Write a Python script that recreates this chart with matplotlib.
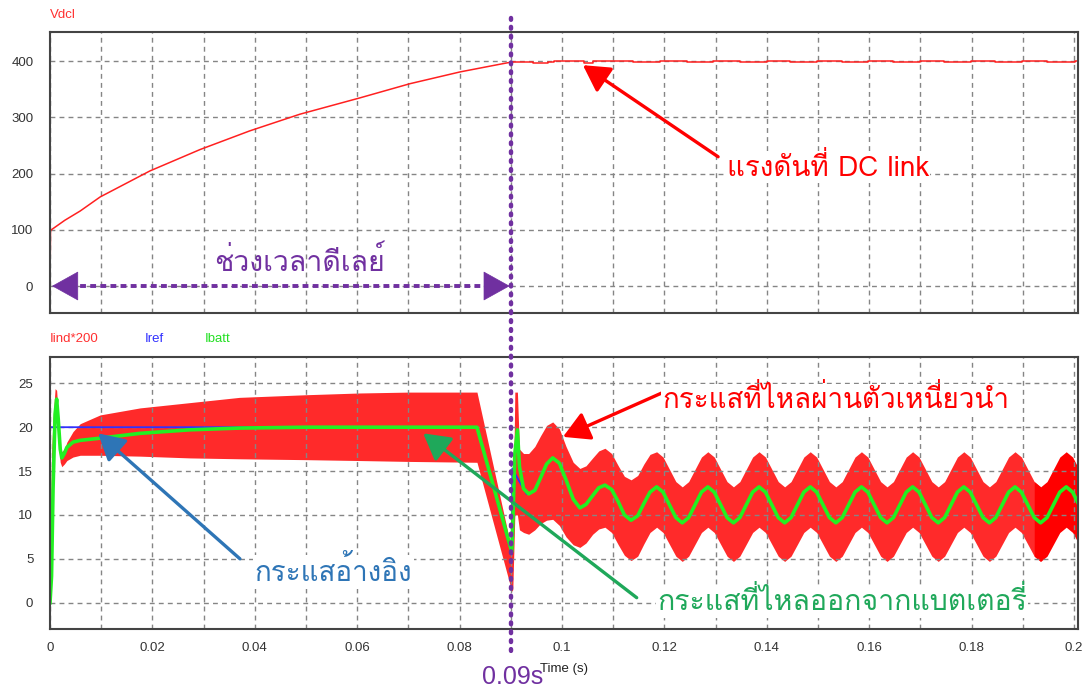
import numpy as np
import matplotlib.pyplot as plt
from matplotlib import font_manager, transforms
from matplotlib.ft2font import FT2Font
from matplotlib.lines import Line2D

# ---- data ----
# top panel : Vdcl
t_v1 = [0, 0.0001, 0.0029, 0.0059, 0.0098, 0.0195, 0.0293, 0.0390, 0.0488,
        0.0605, 0.0703, 0.0801, 0.0879, 0.0904]
v_v1 = [0, 99, 117, 133.5, 158.5, 204.7, 242.8, 276, 305.7,
        334.7, 360, 381, 394.7, 399]
t_v2 = [0.0904, 0.0943, 0.0973, 0.0985, 0.1043, 0.1060, 0.1139, 0.1191, 0.1244,
        0.1295, 0.1348, 0.1400, 0.1445, 0.1498, 0.1547, 0.1598, 0.1646, 0.1699,
        0.1746, 0.1799, 0.1846, 0.1898, 0.1948, 0.2002, 0.2010]
v_v2 = [399.5, 396, 398, 400, 397.5, 400, 398, 400, 398,
        400, 398, 400, 398, 400, 398, 400, 398, 400,
        398, 400, 398, 400, 398, 400, 400]

# bottom panel : Iind*200 envelope (upper / lower), Ibatt, Iref
t_a = [0, 0.0003, 0.0006, 0.0010, 0.0013, 0.0016, 0.0020, 0.0023, 0.0028, 0.0033,
       0.0045, 0.0059, 0.0098, 0.0176, 0.0273, 0.0370, 0.0500, 0.0605, 0.0700, 0.0834]
up_a = [3.0, 17.0, 21.0, 24.4, 24.2, 21.5, 18.0, 17.2, 17.5, 18.3,
        19.5, 20.4, 21.4, 22.2, 22.8, 23.4, 23.7, 23.9, 24.0, 24.0]
lo_a = [0.0, 3.0, 13.0, 20.5, 21.0, 18.5, 16.0, 15.5, 15.8, 16.2,
        16.6, 16.8, 16.8, 16.7, 16.5, 16.4, 16.3, 16.2, 16.1, 16.0]
gr_a = [0.0, 3.0, 13.0, 21.5, 23.2, 21.0, 17.5, 16.5, 17.0, 17.7,
        18.3, 18.5, 18.75, 19.3, 19.7, 19.9, 20.0, 20.0, 20.0, 20.0]

t_b = [0.0902, 0.0904, 0.0908, 0.0913, 0.0917, 0.0925, 0.0935, 0.0947, 0.0958, 0.0970,
       0.0982, 0.0995, 0.1008, 0.1022, 0.1035, 0.1047, 0.1060, 0.1072, 0.1084, 0.1097,
       0.1110, 0.1122, 0.1135, 0.1148, 0.1160, 0.1172]
up_b = [6.0, 8.0, 24.0, 24.0, 17.5, 17.0, 17.0, 17.8, 19.0, 20.2,
        20.6, 19.8, 17.8, 16.0, 15.3, 15.6, 16.5, 17.3, 17.6, 17.0,
        15.6, 14.4, 14.0, 14.5, 15.8, 16.9]
lo_b = [1.3, 1.5, 10.0, 10.0, 8.3, 8.0, 7.8, 8.3, 9.0, 9.4,
        9.5, 8.8, 7.5, 6.6, 6.3, 6.8, 7.8, 8.4, 8.6, 8.0,
        6.6, 5.4, 4.8, 5.3, 6.7, 8.0]
gr_b = [5.8, 9.0, 17.0, 19.7, 15.5, 13.0, 12.4, 12.8, 14.2, 15.8,
        16.5, 15.9, 14.0, 11.8, 10.8, 11.2, 12.2, 13.1, 13.4, 12.9,
        11.5, 10.0, 9.4, 9.9, 11.3, 12.6]

# steady state, samples every 1.25 ms starting on a crest at 0.1185 s
t_c = np.arange(67) * 0.00125 + 0.1185
up_c = [17.2, 16.6, 15.2, 13.8, 13.2, 13.8, 15.2, 16.6,
        17.2, 16.6, 15.2, 13.8, 13.2, 13.8, 15.2, 16.6,
        17.2, 16.6, 15.2, 13.8, 13.2, 13.8, 15.2, 16.6,
        17.2, 16.6, 15.2, 13.8, 13.2, 13.8, 15.2, 16.6,
        17.2, 16.6, 15.2, 13.8, 13.2, 13.8, 15.2, 16.6,
        17.2, 16.6, 15.2, 13.8, 13.2, 13.8, 15.2, 16.6,
        17.2, 16.6, 15.2, 13.8, 13.2, 13.8, 15.2, 16.6,
        17.2, 16.6, 15.2, 13.8, 13.2, 13.8, 15.2, 16.6,
        17.2, 16.6, 15.2]
lo_c = [8.6, 8.0, 6.65, 5.3, 4.7, 5.3, 6.65, 8.0,
        8.6, 8.0, 6.65, 5.3, 4.7, 5.3, 6.65, 8.0,
        8.6, 8.0, 6.65, 5.3, 4.7, 5.3, 6.65, 8.0,
        8.6, 8.0, 6.65, 5.3, 4.7, 5.3, 6.65, 8.0,
        8.6, 8.0, 6.65, 5.3, 4.7, 5.3, 6.65, 8.0,
        8.6, 8.0, 6.65, 5.3, 4.7, 5.3, 6.65, 8.0,
        8.6, 8.0, 6.65, 5.3, 4.7, 5.3, 6.65, 8.0,
        8.6, 8.0, 6.65, 5.3, 4.7, 5.3, 6.65, 8.0,
        8.6, 8.0, 6.65]
gr_c = [13.2, 12.6, 11.15, 9.7, 9.1, 9.7, 11.15, 12.6,
        13.2, 12.6, 11.15, 9.7, 9.1, 9.7, 11.15, 12.6,
        13.2, 12.6, 11.15, 9.7, 9.1, 9.7, 11.15, 12.6,
        13.2, 12.6, 11.15, 9.7, 9.1, 9.7, 11.15, 12.6,
        13.2, 12.6, 11.15, 9.7, 9.1, 9.7, 11.15, 12.6,
        13.2, 12.6, 11.15, 9.7, 9.1, 9.7, 11.15, 12.6,
        13.2, 12.6, 11.15, 9.7, 9.1, 9.7, 11.15, 12.6,
        13.2, 12.6, 11.15, 9.7, 9.1, 9.7, 11.15, 12.6,
        13.2, 12.6, 11.15]

t_ref = [0, 0.0834, 0.0902, 0.0903, 0.0915, 0.0931]
i_ref = [20, 20, 5.5, 15.3, 14.0, 12.4]

x_ticks = np.arange(21) * 0.01
x_labels = ['0', '', '0.02', '', '0.04', '', '0.06', '', '0.08', '', '0.1',
            '', '0.12', '', '0.14', '', '0.16', '', '0.18', '', '0.2']

# ---- fonts ----
def has_thai(path):
    try:
        return 0x0E01 in FT2Font(path).get_charmap()
    except Exception:
        return False

thai = [f.name for f in font_manager.fontManager.ttflist if has_thai(f.fname)]
thai_fam = [thai[0], 'DejaVu Sans'] if thai else ['DejaVu Sans']
plt.rcParams['font.family'] = ['Liberation Sans', 'DejaVu Sans']

purple = '#7030a0'
red = '#ff2a2a'
green = '#22f022'

t_env = np.concatenate([t_a, t_b, t_c])
up = np.concatenate([up_a, up_b, up_c])
lo = np.concatenate([lo_a, lo_b, lo_c])
gr = np.concatenate([gr_a, gr_b, gr_c])

fig = plt.figure(figsize=(10.82, 6.9), dpi=100)
ax1 = fig.add_axes([0.0462, 0.5464, 0.9501, 0.4072])
ax2 = fig.add_axes([0.0462, 0.0884, 0.9501, 0.3942])

for ax in (ax1, ax2):
    ax.set_xlim(0, 0.2008)
    ax.set_xticks(x_ticks)
    ax.grid(True, color='#858585', linestyle=(0, (3.5, 3)), linewidth=1.0)
    ax.tick_params(length=0, labelsize=9.5, labelcolor='#333333')
    ax.tick_params(axis='y', pad=12)
    ax.tick_params(axis='x', pad=9)
    for s in ax.spines.values():
        s.set_color('#444444')
        s.set_linewidth(1.5)

# top
ax1.set_ylim(-48, 452)
ax1.set_yticks([0, 100, 200, 300, 400])
ax1.set_xticklabels([])
ax1.plot(t_v1, v_v1, color='#ff2020', lw=1.1)
ax1.plot(t_v2, v_v2, color='#ff2020', lw=1.1, drawstyle='steps-post')

# bottom
ax2.set_ylim(-3, 28)
ax2.set_yticks([0, 5, 10, 15, 20, 25])
ax2.set_xticklabels(x_labels)
ax2.fill_between(t_env, lo, up, where=t_env <= 0.1936, color=red, lw=0)
ax2.fill_between(t_env, lo, up, where=t_env >= 0.1922, color='#ff0000', lw=0)
ax2.plot(t_ref, i_ref, color='#3030ff', lw=1.3)
ax2.plot(t_env, gr, color=green, lw=2.6)
ax2.set_xlabel('Time (s)', fontsize=9.5, color='#222222')
ax2.xaxis.set_label_coords(0.5, -0.125)

fig.text(0.0462, 0.978, 'Vdcl', color='#ff3030', fontsize=9.5, va='center')
fig.text(0.0462, 0.5087, 'Iind*200', color='#ff3030', fontsize=9.5, va='center')
fig.text(0.134, 0.5087, 'Iref', color='#3030ff', fontsize=9.5, va='center')
fig.text(0.1895, 0.5087, 'Ibatt', color='#22e022', fontsize=9.5, va='center')

# ---- annotations ----
bb = dict(facecolor='white', edgecolor='none', pad=1)
head = dict(arrowstyle='-|>,head_length=0.8,head_width=0.45', lw=2.4,
            mutation_scale=20, shrinkA=0, shrinkB=0)
dhead = dict(arrowstyle='-|>,head_length=0.9,head_width=0.5', color=purple,
             lw=0.5, mutation_scale=20, shrinkA=0, shrinkB=0)

# double arrow of the delay: dotted shaft and two solid heads
ax1.plot([0.004, 0.086], [0, 0], color=purple, lw=2.8, ls=(0, (1.5, 1.1)))
ax1.annotate('', xy=(0.0004, 0), xytext=(0.0050, 0), arrowprops=dhead)
ax1.annotate('', xy=(0.0898, 0), xytext=(0.0852, 0), arrowprops=dhead)
ax1.text(0.0488, 44, 'ช่วงเวลาดีเลย์', color=purple, fontsize=20.5,
         ha='center', va='center', family=thai_fam)

ax1.annotate('', xy=(0.1041, 393), xytext=(0.1305, 230),
             arrowprops=dict(color='#ff0000', **head))
ax1.text(0.1322, 211, 'แรงดันที่ DC link', color='#ff0000', fontsize=20,
         ha='left', va='center', family=thai_fam, bbox=bb)

ax2.annotate('', xy=(0.1002, 18.9), xytext=(0.1195, 23.9),
             arrowprops=dict(color='#ff0000', **head))
ax2.text(0.1197, 23.1, 'กระแสที่ไหลผ่านตัวเหนี่ยวนำ', color='#ff0000', fontsize=20,
         ha='left', va='center', family=thai_fam, bbox=bb)

ax2.annotate('', xy=(0.0094, 19.3), xytext=(0.0371, 5.0),
             arrowprops=dict(color='#2e75b6', **head))
ax2.text(0.0400, 3.5, 'กระแสอ้างอิง', color='#2e75b6', fontsize=20,
         ha='left', va='center', family=thai_fam, bbox=bb)

ax2.annotate('', xy=(0.0729, 19.3), xytext=(0.1146, 0.57),
             arrowprops=dict(color='#1fa85a', **head))
ax2.text(0.1186, 0.1, 'กระแสที่ไหลออกจากแบตเตอรี่', color='#1fa85a', fontsize=20.5,
         ha='left', va='center', family=thai_fam, bbox=bb)

# vertical marker at 0.09 s across both panels
tr = transforms.blended_transform_factory(ax2.transData, fig.transFigure)
fig.add_artist(Line2D([0.09, 0.09], [1 - 18 / 690, 1 - 652 / 690], transform=tr,
                      color=purple, lw=3.2, ls=(0, (0.4, 1.6)),
                      dash_capstyle='round'))
fig.text(0.0904, 1 - 677 / 690, '0.09s', transform=tr, color=purple, fontsize=18,
         ha='center', va='center')

fig.savefig('out.png', dpi=100)
